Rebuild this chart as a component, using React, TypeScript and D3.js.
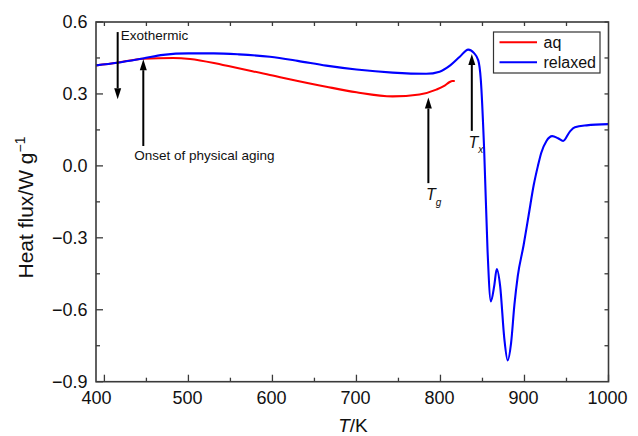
import React from 'react';
import * as d3 from 'd3';

// relaxed sample (blue)
const relaxedT = [390, 415, 446, 470, 500, 530, 560, 597, 630, 664, 700, 743, 783, 799, 812, 823, 833, 840, 845, 848, 852, 856, 860, 864, 867, 871, 876, 880, 884, 888, 892, 899, 905, 911, 916, 920, 926, 933, 940, 946, 954, 960, 974, 1000];
const relaxedQ = [0.419, 0.430, 0.448, 0.463, 0.469, 0.469, 0.465, 0.455, 0.438, 0.418, 0.402, 0.389, 0.384, 0.393, 0.420, 0.455, 0.485, 0.470, 0.440, 0.360, 0.067, -0.350, -0.565, -0.500, -0.430, -0.500, -0.720, -0.811, -0.740, -0.580, -0.460, -0.330, -0.205, -0.080, 0.000, 0.055, 0.103, 0.124, 0.115, 0.104, 0.143, 0.161, 0.169, 0.174];

// as-quenched sample (red)
const aqT = [390, 415, 446, 482, 502, 541, 597, 664, 700, 743, 775, 795, 805, 811, 814, 817];
const aqQ = [0.419, 0.430, 0.447, 0.450, 0.446, 0.421, 0.379, 0.330, 0.307, 0.290, 0.298, 0.318, 0.335, 0.350, 0.354, 0.354];

const xTicks = [400, 500, 600, 700, 800, 900, 1000];
const yTicks = [0.6, 0.3, 0.0, -0.3, -0.6, -0.9];

const W = 638, H = 436;
const margin = { top: 22, right: 29.5, bottom: 54.3, left: 96 };
const font = '"Liberation Sans", Arial, sans-serif';
const axisColor = '#3a3a3a';

export default function App() {
  const x = d3.scaleLinear().domain([390, 1000]).range([margin.left, W - margin.right]);
  const y = d3.scaleLinear().domain([-0.9, 0.6]).range([H - margin.bottom, margin.top]);

  const line = d3.line<[number, number]>()
    .x(d => x(d[0]))
    .y(d => y(d[1]))
    .curve(d3.curveMonotoneX);

  const relaxed = relaxedT.map((t, i) => [t, relaxedQ[i]] as [number, number]);
  const aq = aqT.map((t, i) => [t, aqQ[i]] as [number, number]);

  const x0 = x.range()[0], x1 = x.range()[1];
  const y0 = y.range()[0], y1 = y.range()[1];

  const xMinor = d3.range(450, 1000, 100);
  const yMinor = d3.range(-0.75, 0.6, 0.3);
  const topTicks = d3.range(400, 1000, 50);
  const rightTicks = d3.range(-0.75, 0.6, 0.15);

  // arrows: [T, tail value, tip value]
  const arrows = [
    [415.8, 0.558, 0.278],
    [446.3, 0.083, 0.445],
    [785.6, -0.072, 0.285],
    [837.3, 0.146, 0.467],
  ];

  return (
    <svg width={W} height={H} style={{ position: 'absolute', left: 0, top: 0, background: '#fff' }} fontFamily={font}>
      <defs>
        <clipPath id="plot">
          <rect x={x0} y={y1} width={x1 - x0} height={y0 - y1} />
        </clipPath>
      </defs>

      {/* ticks */}
      <g stroke={axisColor} strokeWidth={1.3}>
        {xTicks.map(t => <line key={'xt' + t} x1={x(t)} x2={x(t)} y1={y0} y2={y0 - 7} />)}
        {xMinor.map(t => <line key={'xm' + t} x1={x(t)} x2={x(t)} y1={y0} y2={y0 - 4} />)}
        {yTicks.map(v => <line key={'yt' + v} x1={x0} x2={x0 + 7} y1={y(v)} y2={y(v)} />)}
        {yMinor.map(v => <line key={'ym' + v} x1={x0} x2={x0 + 4} y1={y(v)} y2={y(v)} />)}
        {topTicks.map(t => <line key={'tt' + t} x1={x(t)} x2={x(t)} y1={y1} y2={y1 + 4} />)}
        {rightTicks.map(v => <line key={'rt' + v} x1={x1} x2={x1 - 4} y1={y(v)} y2={y(v)} />)}
      </g>

      <g clipPath="url(#plot)" fill="none" strokeWidth={2.1} strokeLinejoin="round">
        <path d={line(aq) || ''} stroke="#ff0000" />
        <path d={line(relaxed) || ''} stroke="#0000ff" />
      </g>

      <rect x={x0} y={y1} width={x1 - x0} height={y0 - y1} fill="none" stroke={axisColor} strokeWidth={1.6} />

      {/* tick labels */}
      <g fontSize={18} fill="#111">
        {xTicks.map((t, i) => (
          <text key={'xl' + t} x={x(t) + (i === 0 ? -8 : -1)} y={404} textAnchor="middle">{t}</text>
        ))}
        {yTicks.map(v => (
          <text key={'yl' + v} x={87.5} y={y(v) + 6.4} textAnchor="end">
            {v < 0 ? '\u2212' + Math.abs(v).toFixed(1) : v.toFixed(1)}
          </text>
        ))}
      </g>

      {/* axis titles */}
      <text x={353} y={432} fontSize={19} textAnchor="middle" fill="#111">
        <tspan fontStyle="italic">T</tspan>/K
      </text>
      <text transform="translate(33,207.5) rotate(-90)" fontSize={21} textAnchor="middle" fill="#111">
        Heat flux/W g<tspan fontSize={14} dy={-8}>{'\u2212'}1</tspan>
      </text>

      {/* arrows */}
      <g>
        {arrows.map(([t, a, b], i) => {
          const px = x(t), ya = y(a), yb = y(b);
          const dir = yb > ya ? 1 : -1;
          const base = yb - dir * 11;
          return (
            <g key={'ar' + i}>
              <line x1={px} x2={px} y1={ya} y2={base} stroke="#000" strokeWidth={2} />
              <polygon points={`${px},${yb} ${px - 3.5},${base} ${px + 3.5},${base}`} fill="#000" />
            </g>
          );
        })}
      </g>

      <g fontSize={13.5} fill="#111">
        <text x={120.7} y={40}>Exothermic</text>
        <text x={134.3} y={160}>Onset of physical aging</text>
      </g>
      <text x={426} y={200} fontSize={16} fontStyle="italic" fill="#111">
        T<tspan fontSize={10} dy={6}>g</tspan>
      </text>
      <text x={468.5} y={148} fontSize={16} fontStyle="italic" fill="#111">
        T<tspan fontSize={10} dy={5}>x</tspan>
      </text>

      {/* legend */}
      <g>
        <rect x={493.5} y={32} width={106.5} height={41} fill="#fff" stroke="#333" strokeWidth={1.2} />
        <line x1={499.5} x2={537} y1={42.3} y2={42.3} stroke="#ff0000" strokeWidth={2} />
        <line x1={499.5} x2={537} y1={62.3} y2={62.3} stroke="#0000ff" strokeWidth={2} />
        <text x={543.5} y={48} fontSize={16} fill="#111">aq</text>
        <text x={543.5} y={68} fontSize={16} fill="#111">relaxed</text>
      </g>
    </svg>
  );
}
